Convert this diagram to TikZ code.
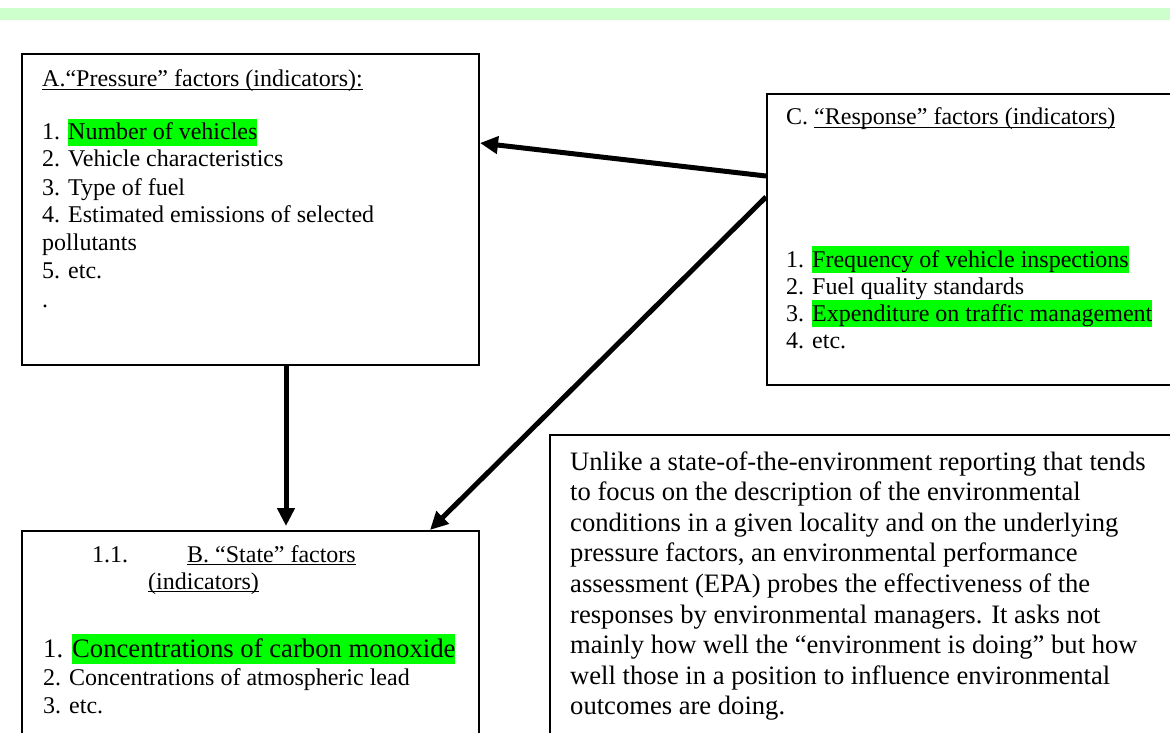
\documentclass[tikz,border=0pt]{standalone}
\usepackage{fontspec}
\setmainfont{Liberation Serif}
\usetikzlibrary{arrows.meta,calc}
\definecolor{hlgreen}{HTML}{00FF00}
\definecolor{stripgreen}{HTML}{CCFFCC}
\newcommand\hlg[1]{{\fboxsep=0pt\colorbox{hlgreen}{\rule[-0.27em]{0pt}{1.13em}#1}}}
\newcommand\ulx[1]{\setbox0=\hbox{#1}\rlap{\rule[-3pt]{\wd0}{1.3pt}}\box0}
\begin{document}
\begin{tikzpicture}[x=1pt,y=-1pt,
  box/.style={draw,line width=2pt,anchor=north west,inner sep=0pt},
  txt/.style={anchor=base west,inner sep=0pt,font=\fontsize{24}{28}\selectfont},
  bigtxt/.style={anchor=base west,inner sep=0pt,font=\fontsize{26.7}{30}\selectfont},
  dtxt/.style={anchor=base west,inner sep=0pt,font=\fontsize{26.6}{30}\selectfont},
  arr/.style={line width=5pt,-{Triangle[length=18pt,width=17pt]}}]
\useasboundingbox (0,0) rectangle (1170,733);
\clip (0,0) rectangle (1170,733);
\fill[stripgreen] (0,8) rectangle (1170,20);
% boxes
\node[box,minimum width=457pt,minimum height=311pt] (A) at (21,53) {};
\node[box,minimum width=457pt,minimum height=260pt] (B) at (21,530) {};
\node[box,minimum width=430pt,minimum height=291pt] (C) at (766,93) {};
\node[box,minimum width=640pt,minimum height=330pt] (D) at (549,434) {};
% arrow end points
\coordinate (c1) at ($(C.north west)+(0,83)$);
\coordinate (c2) at ($(C.north west)+(0,104)$);
\coordinate (a1) at ($(A.north east)+(0,90)$);
\coordinate (a2) at ($(A.south west)+(265,0)$);
\coordinate (b1) at ($(B.north west)+(265,-4)$);
\coordinate (b2) at ($(B.north west)+(409,0)$);
\draw[arr] (c1) -- (a1);
\draw[arr] (c2) -- (b2);
\draw[arr] (a2) -- (b1);
% box A text
\node[txt] (at) at (42,87) {\ulx{A.“Pressure” factors (indicators):}};
\node[txt] (a1t) at (42,140) {1. \hlg{Number of vehicles}};
\node[txt] (a2t) at (42,167) {2. Vehicle characteristics};
\node[txt] (a3t) at (42,195) {3. Type of fuel};
\node[txt] (a4t) at (42,222) {4. Estimated emissions of selected};
\node[txt] (a5t) at (42,250) {pollutants};
\node[txt] (a6t) at (42,278) {5. etc.};
\node[txt] (a7t) at (42,307) {.};
% box C text
\node[txt] (ct) at (786,125) {C. \ulx{“Response” factors (indicators)}};
\node[txt] (c1t) at (786,267) {1. \hlg{Frequency of vehicle inspections}};
\node[txt] (c2t) at (786,294) {2. Fuel quality standards};
\node[txt] (c3t) at (786,321) {3. \hlg{Expenditure on traffic management}};
\node[txt] (c4t) at (786,348) {4. etc.};
% box B text
\node[txt] (bn) at (92,562) {1.1.};
\node[txt] (bt) at (187,562) {\ulx{B. “State” factors}};
\node[txt] (bt2) at (148,589) {\ulx{(indicators)}};
\node[bigtxt] (b1t) at (43,657) {1. \hlg{Concentrations of carbon monoxide}};
\node[txt] (b2t) at (43,685) {2. Concentrations of atmospheric lead};
\node[txt] (b3t) at (43,713) {3. etc.};
% box D text
\node[dtxt] (d1) at (570,470) {Unlike a state-of-the-environment reporting that tends};
\node[dtxt] (d2) at (570,500.6) {to focus on the description of the environmental};
\node[dtxt] (d3) at (570,531.2) {conditions in a given locality and on the underlying};
\node[dtxt] (d4) at (570,561.8) {pressure factors, an environmental performance};
\node[dtxt] (d5) at (570,592.4) {assessment (EPA) probes the effectiveness of the};
\node[dtxt] (d6) at (570,623) {responses by environmental managers. It asks not};
\node[dtxt] (d7) at (570,653.6) {mainly how well the “environment is doing” but how};
\node[dtxt] (d8) at (570,684.2) {well those in a position to influence environmental};
\node[dtxt] (d9) at (570,714.8) {outcomes are doing.};
\end{tikzpicture}
\end{document}
